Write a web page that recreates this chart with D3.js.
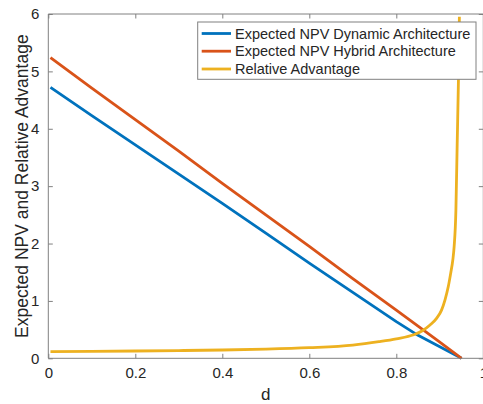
<!DOCTYPE html>
<html>
<head>
<meta charset="utf-8">
<script src="https://cdn.jsdelivr.net/npm/d3@7"></script>
<style>
  html, body { margin: 0; padding: 0; background: #fff; overflow: hidden; }
  svg { display: block; font-family: "Liberation Sans", Arial, Helvetica, sans-serif; }
</style>
</head>
<body>
<svg id="chart" width="483" height="404"></svg>
<script>
// ---- data ----
const dLines = [0.005, 0.1, 0.2, 0.3, 0.4, 0.5, 0.6, 0.7, 0.8, 0.85, 0.9, 0.95];
const npvDynamic = [4.72, 4.23, 3.72, 3.21, 2.70, 2.18, 1.66, 1.15, 0.64, 0.40, 0.20, 0.0];
const npvHybrid  = [5.24, 4.71, 4.16, 3.61, 3.05, 2.50, 1.95, 1.39, 0.84, 0.56, 0.28, 0.0];

const dRatio = [0.005, 0.1, 0.2, 0.3, 0.4, 0.5, 0.6, 0.7, 0.76, 0.8, 0.84, 0.86, 0.8775, 0.893,
                0.904, 0.912, 0.9195, 0.925, 0.93, 0.933, 0.937, 0.94, 0.943, 0.945];
const relAdvantage = [0.115, 0.12, 0.127, 0.135, 0.145, 0.16, 0.185, 0.23, 0.29, 0.34, 0.41, 0.48, 0.58, 0.70,
                      0.84, 1.02, 1.25, 1.48, 1.72, 1.95, 2.58, 3.75, 4.9, 5.95];

const seriesNames = ["Expected NPV Dynamic Architecture", "Expected NPV Hybrid Architecture", "Relative Advantage"];
const seriesColors = ["#0072BD", "#D95319", "#EDB120"];
const xTicks = [0, 0.2, 0.4, 0.6, 0.8, 1];
const xTickLabels = ["0", "0.2", "0.4", "0.6", "0.8", "1"];
const yTicks = [0, 1, 2, 3, 4, 5, 6];
const yTickLabels = ["0", "1", "2", "3", "4", "5", "6"];
const xLabel = "d";
const yLabel = "Expected NPV and Relative Advantage";

// ---- layout ----
const svg = d3.select("#chart");
const pL = 48.3, pR = 483.3, pT = 14, pB = 358.3;
const x = d3.scaleLinear().domain([0, 1]).range([pL, pR]);
const y = d3.scaleLinear().domain([0, 6]).range([pB, pT]);
const axisColor = "#808080";
const textColor = "#262626";
const tickLen = 4.5;

// lines
const series = [
  { xs: dLines, ys: npvDynamic, curve: d3.curveLinear },
  { xs: dLines, ys: npvHybrid, curve: d3.curveLinear },
  { xs: dRatio, ys: relAdvantage, curve: d3.curveMonotoneX }
];
series.forEach((s, i) => {
  const pts = s.xs.map((v, j) => [v, s.ys[j]]);
  const line = d3.line().x(p => x(p[0])).y(p => y(p[1])).curve(s.curve);
  svg.append("path").datum(pts)
    .attr("d", line)
    .attr("fill", "none")
    .attr("stroke", seriesColors[i])
    .attr("stroke-width", 2.8)
    .attr("stroke-linejoin", "round");
});

// axes (box with inward ticks)
const gBottom = svg.append("g").attr("transform", `translate(0,${pB})`)
  .call(d3.axisBottom(x).tickValues(xTicks).tickSize(-tickLen).tickPadding(9)
        .tickFormat((d, i) => xTickLabels[i]));
const gTop = svg.append("g").attr("transform", `translate(0,${pT})`)
  .call(d3.axisTop(x).tickValues(xTicks).tickSize(-tickLen).tickFormat(""));
const gLeft = svg.append("g").attr("transform", `translate(${pL},0)`)
  .call(d3.axisLeft(y).tickValues(yTicks).tickSize(-tickLen).tickPadding(9)
        .tickFormat((d, i) => yTickLabels[i]));
const gRight = svg.append("g").attr("transform", `translate(${pR},0)`)
  .call(d3.axisRight(y).tickValues(yTicks).tickSize(-tickLen).tickFormat(""));

[gBottom, gTop, gLeft, gRight].forEach(g => {
  g.select(".domain").attr("stroke", axisColor).attr("stroke-width", 1);
  g.selectAll(".tick line").attr("stroke", axisColor).attr("stroke-width", 1);
  g.selectAll(".tick text").attr("fill", textColor).style("font-size", "15px")
    .style("font-family", '"Liberation Sans", Arial, Helvetica, sans-serif');
});
[gBottom, gTop].forEach(g => g.select(".domain").attr("d", `M${pL},0H${pR}`));
[gLeft, gRight].forEach(g => g.select(".domain").attr("d", `M0,${pB}V${pT}`));

// axis labels
svg.append("text").attr("x", (pL + pR) / 2).attr("y", 400)
  .attr("text-anchor", "middle").attr("fill", textColor).style("font-size", "17px")
  .text(xLabel);
svg.append("text")
  .attr("transform", `translate(28,${(pT + pB) / 2}) rotate(-90)`)
  .attr("text-anchor", "middle").attr("fill", textColor).style("font-size", "17.5px")
  .text(yLabel);

// legend
const lg = svg.append("g");
lg.append("rect").attr("x", 197.7).attr("y", 22).attr("width", 278.3).attr("height", 57.3)
  .attr("fill", "#fff").attr("stroke", axisColor).attr("stroke-width", 1);
const rowY = [33.5, 51.2, 69];
seriesNames.forEach((name, i) => {
  lg.append("line").attr("x1", 201.7).attr("x2", 231).attr("y1", rowY[i]).attr("y2", rowY[i])
    .attr("stroke", seriesColors[i]).attr("stroke-width", 2.8);
  lg.append("text").attr("x", 235).attr("y", rowY[i]).attr("dy", "0.35em")
    .attr("fill", textColor).style("font-size", "14.5px").text(name);
});
</script>
</body>
</html>
